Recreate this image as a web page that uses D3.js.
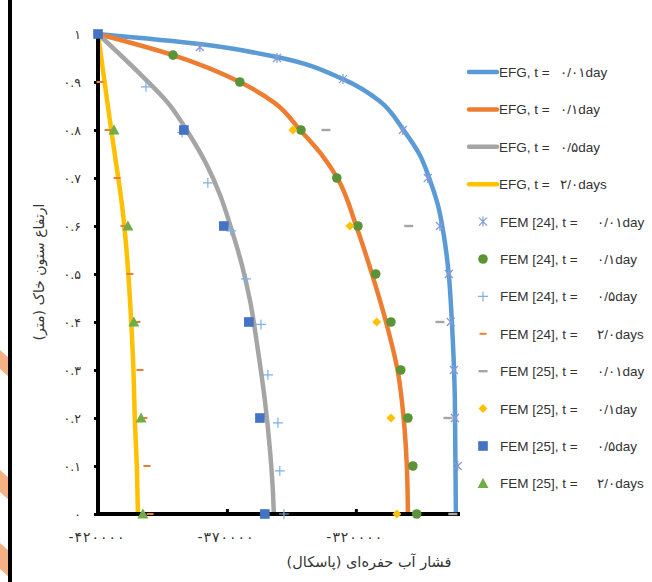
<!DOCTYPE html>
<html><head><meta charset="utf-8">
<script src="https://cdn.jsdelivr.net/npm/d3@7/dist/d3.min.js"></script>
<style>html,body{margin:0;padding:0;background:#fff;}svg{display:block;}</style>
</head><body>
<svg id="c" width="652" height="582"></svg>
<script>
// ---------- data ----------
const xTicks = [-420000, -370000, -320000];
const xTickLabels = ["-۴۲۰۰۰۰", "-۳۷۰۰۰۰", "-۳۲۰۰۰۰"];
const yTicks = [0, 0.1, 0.2, 0.3, 0.4, 0.5, 0.6, 0.7, 0.8, 0.9, 1];
const yTickLabels = ["۰", "۰.۱", "۰.۲", "۰.۳", "۰.۴", "۰.۵", "۰.۶", "۰.۷", "۰.۸", "۰.۹", "۱"];
const xTitle = "فشار آب حفره‌ای (پاسکال)";
const yTitle = "ارتفاع ستون خاک (متر)";

const timeLabels = ["۰/۰۱day", "۰/۱day", "۰/۵day", "۲/۰days"];

// EFG curves (height, pore pressure)
const efg001H = [1, 0.979, 0.952, 0.906, 0.86, 0.802, 0.748, 0.696, 0.644, 0.581, 0.498, 0.404, 0.2375, 0];
const efg001P = [-420000, -380500, -350600, -325000, -310700, -301800, -295200, -291300, -288200, -285900, -283950, -282800, -281600, -281200];
const efg01H = [1, 0.956, 0.9, 0.856, 0.798, 0.748, 0.698, 0.596, 0.494, 0.394, 0.296, 0.196, 0.096, 0];
const efg01P = [-420000, -390900, -365000, -351400, -341300, -333200, -327000, -319600, -313400, -308000, -303700, -301400, -300200, -299800];
const efg05H = [1, 0.921, 0.854, 0.79, 0.727, 0.665, 0.596, 0.519, 0.446, 0.342, 0.2375, 0.133, 0.05, 0];
const efg05P = [-420000, -404500, -392500, -384500, -377800, -372700, -368400, -364200, -361100, -358000, -355300, -353300, -352200, -351800];
const efg2H = [1, 0.894, 0.79, 0.717, 0.644, 0.55, 0.446, 0.321, 0.196, 0.092, 0];
const efg2P = [-420000, -417300, -414600, -412600, -410700, -408950, -407600, -406400, -405700, -404900, -404500];

// FEM [24]
const fem24_001H = [0.973, 0.95, 0.906, 0.8, 0.7, 0.6, 0.5, 0.4, 0.3, 0.2, 0.1];
const fem24_001P = [-380500, -350600, -325000, -301800, -292100, -287400, -283950, -283200, -282000, -281600, -280500];
const fem24_01H = [0.956, 0.9, 0.8, 0.7, 0.6, 0.5, 0.4, 0.3, 0.2, 0.1, 0];
const fem24_01P = [-390900, -365000, -341300, -327400, -319200, -312300, -306400, -302600, -299800, -297900, -296400];
const fem24_05H = [0.89, 0.795, 0.69, 0.59, 0.49, 0.395, 0.29, 0.19, 0.09, 0];
const fem24_05P = [-401400, -387400, -377400, -368400, -362600, -356800, -354100, -350200, -349500, -347900];
const fem24_2H = [0.9, 0.8, 0.7, 0.6, 0.5, 0.4, 0.3, 0.2, 0.1, 0];
const fem24_2P = [-419200, -416100, -412600, -409900, -407600, -404900, -403700, -402200, -401000, -399800];

// FEM [25]
const fem25_001H = [0.8, 0.6, 0.4, 0.2, 0];
const fem25_001P = [-331600, -299500, -287400, -284300, -282400];
const fem25_01H = [0.8, 0.6, 0.4, 0.2, 0];
const fem25_01P = [-344400, -322300, -311900, -306400, -304100];
const fem25_05H = [1, 0.8, 0.6, 0.4, 0.2, 0];
const fem25_05P = [-420000, -386700, -371200, -361500, -357200, -355300];
const fem25_2H = [0.8, 0.6, 0.4, 0.2, 0];
const fem25_2P = [-413800, -408400, -406100, -403300, -402600];

// ---------- chart ----------
const svg = d3.select("#c");
const x = d3.scaleLinear().domain([-420000, -280000]).range([98, 459]);
const y = d3.scaleLinear().domain([0, 1]).range([514, 34]);
const zip = (H, P) => H.map((h, i) => ({h: h, p: P[i]}));

// background decorations (page edge)
const deco = svg.append("g");
[[350, 377], [470, 500], [543, 577]].forEach(([a, b]) => {
  deco.append("polygon").attr("points", `0,${a} 9,${a+8} 9,${b} 0,${b-8}`).attr("fill", "#F4B183");
});
deco.append("rect").attr("x", 8).attr("y", 0).attr("width", 4).attr("height", 582).attr("fill", "#000");

const lines = [
  {name: "EFG, t =", t: timeLabels[0], data: zip(efg001H, efg001P), color: "#5B9BD5"},
  {name: "EFG, t =", t: timeLabels[1], data: zip(efg01H, efg01P), color: "#ED7D31"},
  {name: "EFG, t =", t: timeLabels[2], data: zip(efg05H, efg05P), color: "#A5A5A5"},
  {name: "EFG, t =", t: timeLabels[3], data: zip(efg2H, efg2P), color: "#FFC000"}
];

const points = [
  {name: "FEM [24], t =", t: timeLabels[0], data: zip(fem24_001H, fem24_001P), sym: "asterisk", color: "#7F9BD8"},
  {name: "FEM [24], t =", t: timeLabels[1], data: zip(fem24_01H, fem24_01P), sym: "circle", color: "#5A9437"},
  {name: "FEM [24], t =", t: timeLabels[2], data: zip(fem24_05H, fem24_05P), sym: "plus", color: "#7FB0E0"},
  {name: "FEM [24], t =", t: timeLabels[3], data: zip(fem24_2H, fem24_2P), sym: "dash", color: "#ED7D31"},
  {name: "FEM [25], t =", t: timeLabels[0], data: zip(fem25_001H, fem25_001P), sym: "dashg", color: "#A5A5A5"},
  {name: "FEM [25], t =", t: timeLabels[1], data: zip(fem25_01H, fem25_01P), sym: "diamond", color: "#FFC000"},
  {name: "FEM [25], t =", t: timeLabels[2], data: zip(fem25_05H, fem25_05P), sym: "square", color: "#4472C4"},
  {name: "FEM [25], t =", t: timeLabels[3], data: zip(fem25_2H, fem25_2P), sym: "triangle", color: "#70AD47"}
];

function drawSym(g, sym, color) {
  if (sym === "asterisk") {
    g.append("path").attr("d", "M-4,-4L4,4M-4,4L4,-4M0,-5L0,5").attr("stroke", color).attr("stroke-width", 1.2).attr("fill", "none");
  } else if (sym === "circle") {
    g.append("circle").attr("r", 4.8).attr("fill", color);
  } else if (sym === "plus") {
    g.append("path").attr("d", "M-5,0L5,0M0,-5L0,5").attr("stroke", color).attr("stroke-width", 1.2).attr("fill", "none");
  } else if (sym === "dash") {
    g.append("rect").attr("x", -3.5).attr("y", -1).attr("width", 7).attr("height", 2).attr("fill", color);
  } else if (sym === "dashg") {
    g.append("rect").attr("x", -4.5).attr("y", -1.2).attr("width", 9).attr("height", 2.4).attr("fill", color);
  } else if (sym === "diamond") {
    g.append("path").attr("d", "M0,-4.5L4.5,0L0,4.5L-4.5,0Z").attr("fill", color);
  } else if (sym === "square") {
    g.append("rect").attr("x", -4.8).attr("y", -4.8).attr("width", 9.6).attr("height", 9.6).attr("fill", color);
  } else if (sym === "triangle") {
    g.append("path").attr("d", "M0,-5.5L5.5,4.5L-5.5,4.5Z").attr("fill", color);
  }
}

// curves
const lineGen = d3.line().x(d => x(d.p)).y(d => y(d.h)).curve(d3.curveMonotoneY);
lines.forEach(s => {
  svg.append("path").datum(s.data).attr("d", lineGen).attr("fill", "none")
    .attr("stroke", s.color).attr("stroke-width", 4.5).attr("stroke-linecap", "round");
});

// axes
const fontFa = "'DejaVu Sans', sans-serif";
const axisG = svg.append("g");
const yAxis = d3.axisLeft(y).tickValues(yTicks).tickSize(4).tickPadding(10).tickFormat((d, i) => yTickLabels[i]);
const yg = axisG.append("g").attr("transform", "translate(98,0)").call(yAxis);
yg.select(".domain").remove();
yg.selectAll(".tick line").attr("stroke", "#000").attr("stroke-width", 3);
yg.selectAll(".tick text").attr("font-family", fontFa).attr("font-size", 12.5).attr("fill", "#333").attr("x", -17);

const xAxis = d3.axisBottom(x).tickValues(xTicks).tickSize(-5).tickPadding(18).tickFormat((d, i) => xTickLabels[i]);
const xg = axisG.append("g").attr("transform", "translate(0,514)").call(xAxis);
xg.select(".domain").remove();
xg.selectAll(".tick line").attr("stroke", "#000").attr("stroke-width", 3);
xg.selectAll(".tick text").attr("font-family", fontFa).attr("font-size", 14)
  .attr("textLength", 56).attr("lengthAdjust", "spacing").attr("fill", "#333").attr("dx", -2);

// axis lines
axisG.append("line").attr("x1", x(-420000)).attr("x2", x(-420000)).attr("y1", y(1) - 1).attr("y2", y(0) + 2)
  .attr("stroke", "#000").attr("stroke-width", 4);
axisG.append("line").attr("x1", x(-420000) - 2).attr("x2", x(-280000) + 1).attr("y1", y(0)).attr("y2", y(0))
  .attr("stroke", "#000").attr("stroke-width", 4);

// markers
points.forEach(s => {
  s.data.forEach(d => {
    const g = svg.append("g").attr("transform", `translate(${x(d.p)},${y(d.h)})`);
    drawSym(g, s.sym, s.color);
  });
});

// titles
svg.append("text").attr("x", 369).attr("y", 567).attr("text-anchor", "middle")
  .attr("font-family", fontFa).attr("font-size", 14.5).attr("fill", "#333").attr("direction", "rtl").text(xTitle);
svg.append("text").attr("transform", "translate(44,272) rotate(-90)").attr("text-anchor", "middle")
  .attr("font-family", fontFa).attr("font-size", 14).attr("fill", "#333").attr("direction", "rtl").text(yTitle);

// legend
const legFont = "'Liberation Sans', 'DejaVu Sans', sans-serif";
const rowY = d3.range(12).map(i => 72 + i * 37.4);
lines.forEach((s, i) => {
  const g = svg.append("g").attr("transform", `translate(0,${rowY[i]})`);
  g.append("line").attr("x1", 469).attr("x2", 497).attr("y1", 0).attr("y2", 0)
    .attr("stroke", s.color).attr("stroke-width", 4.5).attr("stroke-linecap", "round");
  g.append("text").attr("x", 499).attr("y", 5).attr("font-family", legFont).attr("font-size", 13.5).attr("fill", "#333").text(s.name);
  g.append("text").attr("x", 560).attr("y", 5).attr("font-family", legFont).attr("font-size", 13.5).attr("fill", "#333").text(s.t);
});
points.forEach((s, i) => {
  const g = svg.append("g").attr("transform", `translate(0,${rowY[i + 4]})`);
  const m = g.append("g").attr("transform", "translate(483,0)");
  drawSym(m, s.sym, s.color);
  g.append("text").attr("x", 500).attr("y", 5).attr("font-family", legFont).attr("font-size", 13.5).attr("fill", "#333").text(s.name);
  g.append("text").attr("x", 597).attr("y", 5).attr("font-family", legFont).attr("font-size", 13.5).attr("fill", "#333").text(s.t);
});
</script>
</body></html>
